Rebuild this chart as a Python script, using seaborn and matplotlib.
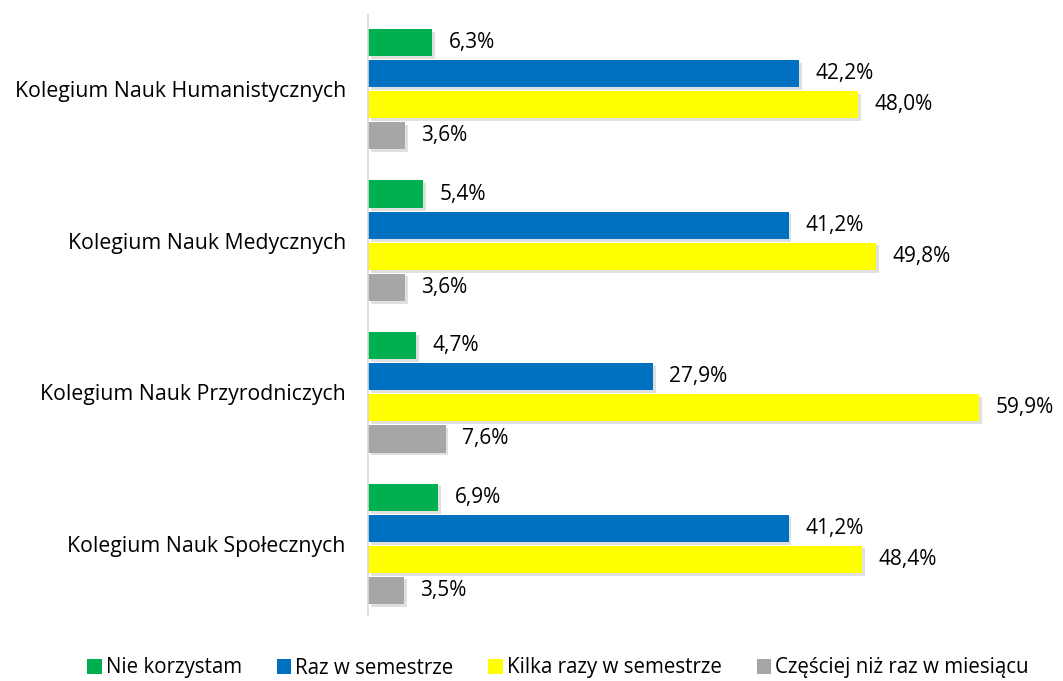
import matplotlib
matplotlib.use("Agg")
import matplotlib.pyplot as plt
import matplotlib.patheffects as pe
import seaborn as sns
import pandas as pd

categories = ["Kolegium Nauk Humanistycznych", "Kolegium Nauk Medycznych",
              "Kolegium Nauk Przyrodniczych", "Kolegium Nauk Społecznych"]
series = ["Nie korzystam", "Raz w semestrze", "Kilka razy w semestrze",
          "Częściej niż raz w miesiącu"]
nie_korzystam = [6.3, 5.4, 4.7, 6.9]
raz_w_semestrze = [42.2, 41.2, 27.9, 41.2]
kilka_razy = [48.0, 49.8, 59.9, 48.4]
czesciej = [3.6, 3.6, 7.6, 3.5]
colors = ["#00B050", "#0070C0", "#FFFF00", "#A6A6A6"]

rows = []
for s, vals in zip(series, [nie_korzystam, raz_w_semestrze, kilka_razy, czesciej]):
    for c, v in zip(categories, vals):
        rows.append({"Kolegium": c, "Seria": s, "Wartość": v})
df = pd.DataFrame(rows)

sns.set_theme(style="white")
plt.rcParams["font.family"] = ["Open Sans", "DejaVu Sans"]

fig = plt.figure(figsize=(10.63, 6.81), dpi=100)
ax = fig.add_axes([368 / 1063, 1 - 615 / 681, 640 / 1063, 600 / 681])

sns.barplot(data=df, y="Kolegium", x="Wartość", hue="Seria", order=categories,
            hue_order=series, palette=colors, orient="h", width=0.82, gap=0.12,
            saturation=1, ax=ax, legend=True, edgecolor="none", linewidth=0)

shadow = [pe.SimplePatchShadow(offset=(2, -2), alpha=0.12, shadow_rgbFace="#000000"),
          pe.Normal()]
for cont in ax.containers:
    for p in cont.patches:
        p.set_path_effects(shadow)
    labels = [f"{v:.1f}".replace(".", ",") + "%" for v in cont.datavalues]
    ax.bar_label(cont, labels=labels, padding=12, fontsize=15, color="#000000")

ax.set_xlim(0, 62.7)
ax.set_ylim(3.47, -0.49)
ax.set_xlabel("")
ax.set_ylabel("")
ax.set_xticks([])
ax.tick_params(axis="y", length=0, pad=16, labelsize=15.3, labelcolor="#000000")
for side in ["top", "right", "bottom"]:
    ax.spines[side].set_visible(False)
ax.spines["left"].set_color("#D9D9D9")
ax.spines["left"].set_linewidth(1.2)

handles, labs = ax.get_legend_handles_labels()
ax.legend_.remove()
leg = fig.legend(handles, labs, loc="center", bbox_to_anchor=(0.525, 1 - 668 / 681), ncol=4,
                 frameon=False, fontsize=14.8, handlelength=0.7, handleheight=0.7,
                 handletextpad=0.2, columnspacing=1.7)
for t in leg.get_texts():
    t.set_color("#000000")

fig.savefig("out.png", dpi=100)
